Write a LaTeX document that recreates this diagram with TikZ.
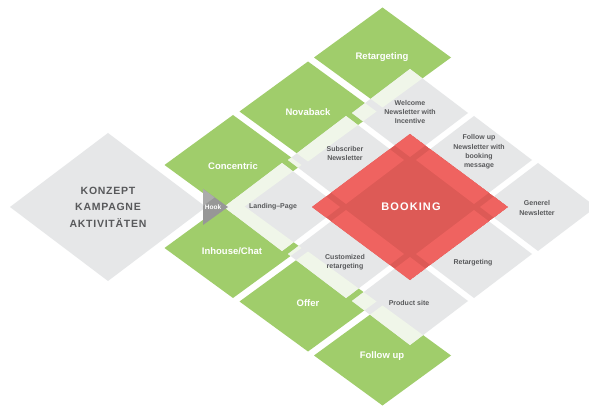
\documentclass[tikz,border=0pt]{standalone}
\usepackage{fontspec}
\setmainfont{Liberation Sans}
\newfontfamily\spacedfont[LetterSpace=10]{Liberation Sans}
\newfontfamily\konzfont[LetterSpace=7]{Liberation Sans}
\definecolor{grn}{HTML}{A0CD6B}
\definecolor{palegrn}{HTML}{F0F6E9}
\definecolor{greycell}{HTML}{E6E7E8}
\definecolor{redlight}{HTML}{EF6360}
\definecolor{reddark}{HTML}{DD5A56}
\definecolor{txtgrey}{HTML}{58595B}
\definecolor{hookdark}{HTML}{979797}
\definecolor{hooklight}{HTML}{ABABAB}
\newcommand\dmd[4]{({#1-#3},#2) -- (#1,{#2-#4}) -- ({#1+#3},#2) -- (#1,{#2+#4}) -- cycle}
\tikzset{
  greenlabel/.style={text=white,font=\fontsize{9.5}{11}\selectfont\bfseries,inner sep=0pt},
  greylabel/.style={text=txtgrey,font=\fontsize{7}{9.3}\selectfont\bfseries,inner sep=0pt,align=center},
  biglabel/.style={inner sep=0pt,align=center},
}
\begin{document}
\begin{tikzpicture}[x=1pt,y=-1pt]
\useasboundingbox (0,0) rectangle (589,406);
\fill[white] (0,0) rectangle (589,406);
\def\greens{233/165,308/111.5,382.5/57.5,233/248,308/301.5,382.5/355.5}
\def\greys{282/207,346/160,410/113,474/160,538/207,474/254,410/301,346/254}
% concept diamond
\fill[greycell] \dmd{108}{207}{98}{74};
% green diamonds
\foreach \cx/\cy in \greens {\fill[grn] \dmd{\cx}{\cy}{68.5}{50};}
% grey cells
\foreach \cx/\cy in \greys {\fill[greycell] \dmd{\cx}{\cy}{58}{44};}
% pale overlap of green over grey
\foreach \cx/\cy in \greys {
  \begin{scope}
    \clip \dmd{\cx}{\cy}{58}{44};
    \foreach \gx/\gy in \greens {\fill[palegrn] \dmd{\gx}{\gy}{68.5}{50};}
  \end{scope}
}
% booking
\begin{scope}
  \clip \dmd{410}{207}{98}{73};
  \fill[reddark] \dmd{410}{207}{98}{73};
  \foreach \cx/\cy in \greys {\fill[redlight] \dmd{\cx}{\cy}{58}{44};}
\end{scope}
% hook triangle
\fill[hookdark] (203,189) -- (228,207) -- (203,225) -- cycle;
\fill[hooklight] (203,189) -- (214.6,197.4) -- (203,206) -- cycle;
% texts
\node[biglabel,text=txtgrey,font=\fontsize{10.5}{16.5}\selectfont\konzfont\bfseries] (konzept) at (108,207) {KONZEPT\\KAMPAGNE\\AKTIVITÄTEN};
\node[biglabel,text=white,font=\fontsize{11}{13}\selectfont\spacedfont\bfseries] (booking) at (411,207) {BOOKING};
\node[text=white,font=\fontsize{6.5}{8}\selectfont\bfseries,inner sep=0pt] (hook) at (213,207) {Hook};
\node[greenlabel] (g1) at (233,166) {Concentric};
\node[greenlabel] (g2) at (308,112) {Novaback};
\node[greenlabel] (g3) at (382,57) {Retargeting};
\node[greenlabel] (g4) at (232,251) {Inhouse/Chat};
\node[greenlabel] (g5) at (308,303) {Offer};
\node[greenlabel] (g6) at (382,356) {Follow up};
\node[greylabel] (c1) at (273,207) {Landing--Page};
\node[greylabel] (c2) at (345,153.5) {Subscriber\\Newsletter};
\node[greylabel] (c3) at (410,112) {Welcome\\Newsletter with\\Incentive};
\node[greylabel] (c4) at (479,152) {Follow up\\Newsletter with\\booking\\message};
\node[greylabel] (c5) at (537,208) {Generel\\Newsletter};
\node[greylabel] (c6) at (473,263) {Retargeting};
\node[greylabel] (c7) at (409,303) {Product site};
\node[greylabel] (c8) at (345,262) {Customized\\retargeting};
\end{tikzpicture}
\end{document}
